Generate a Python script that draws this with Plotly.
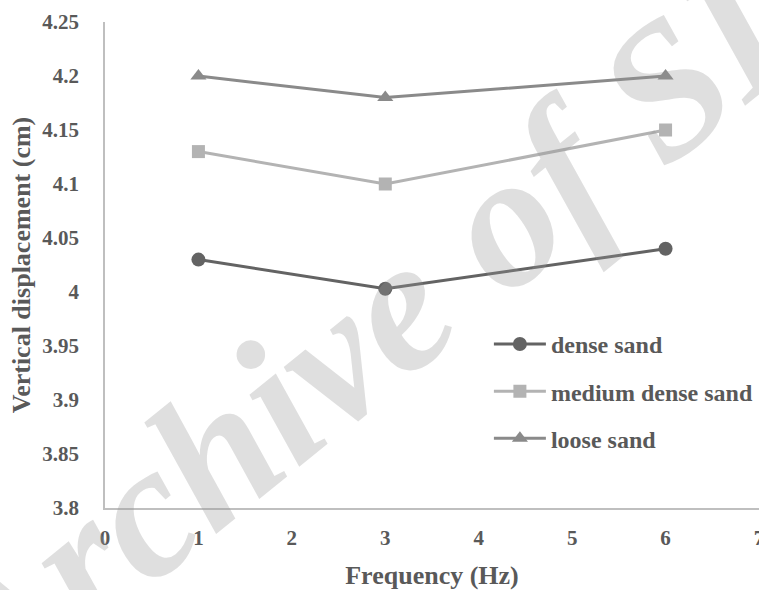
import plotly.graph_objects as go

# Vertical displacement of the footing versus loading frequency
frequency = [1, 3, 6]
dense_sand = [4.03, 4.003, 4.04]
medium_dense_sand = [4.13, 4.10, 4.15]
loose_sand = [4.20, 4.18, 4.20]

series_names = ["dense sand", "medium dense sand", "loose sand"]
x_ticks = [0, 1, 2, 3, 4, 5, 6, 7]
y_ticks = [3.8, 3.85, 3.9, 3.95, 4.0, 4.05, 4.1, 4.15, 4.2, 4.25]
y_tick_text = ["3.8", "3.85", "3.9", "3.95", "4", "4.05", "4.1", "4.15", "4.2", "4.25"]

FONT = "Liberation Serif, Times New Roman, serif"
TEXT_GREY = "#595959"
AXIS_GREY = "#bfbfbf"

styles = [
    dict(color="#636363", symbol="circle", size=14),
    dict(color="#b3b3b3", symbol="square", size=13),
    dict(color="#8a8a8a", symbol="triangle-up", size=14),
]

fig = go.Figure()
for i, (name, values, st) in enumerate(zip(series_names,
                                            [dense_sand, medium_dense_sand, loose_sand],
                                            styles)):
    fig.add_trace(go.Scatter(
        x=frequency, y=values, name=name, mode="lines+markers",
        legendgroup=f"g{i}",
        line=dict(color=st["color"], width=3),
        marker=dict(color=st["color"], symbol=st["symbol"], size=st["size"],
                    line=dict(width=0)),
    ))

fig.update_layout(
    width=759, height=590,
    margin=dict(l=105, r=0, t=22, b=82),
    plot_bgcolor="white", paper_bgcolor="white",
    font=dict(family=FONT, color=TEXT_GREY, size=21, weight="bold"),
    showlegend=True,
    legend=dict(
        x=0.587, y=0.383, xanchor="left", yanchor="top",
        bgcolor="rgba(0,0,0,0)", tracegroupgap=13, itemwidth=52,
        font=dict(family=FONT, size=24, color=TEXT_GREY, weight="bold"),
    ),
    xaxis=dict(
        range=[0, 7], tickmode="array", tickvals=x_ticks,
        showgrid=False, zeroline=False, showline=True, linecolor=AXIS_GREY,
        linewidth=1.5, ticks="", automargin=False, ticklabelstandoff=10,
        ticklabeloverflow="allow",
        tickfont=dict(family=FONT, size=21, color=TEXT_GREY, weight="bold"),
        title=dict(text="Frequency (Hz)", standoff=22,
                   font=dict(family=FONT, size=26, color=TEXT_GREY, weight="bold")),
    ),
    yaxis=dict(
        range=[3.8, 4.25], tickmode="array", tickvals=y_ticks, ticktext=y_tick_text,
        showgrid=False, zeroline=False, showline=True, linecolor=AXIS_GREY,
        linewidth=1.5, ticks="", automargin=False, ticklabelstandoff=20,
        tickfont=dict(family=FONT, size=21, color=TEXT_GREY, weight="bold"),
        title=dict(text="Vertical displacement (cm)", standoff=4,
                   font=dict(family=FONT, size=26, color=TEXT_GREY, weight="bold")),
    ),
)

# Repository watermark running diagonally across the page
fig.add_annotation(
    text="Archive of SID", xref="paper", yref="paper",
    x=0.462, y=0.434, xanchor="center", yanchor="middle",
    textangle=-39, showarrow=False,
    font=dict(family=FONT, size=190, color="rgba(150,150,150,0.3)",
              style="italic", weight="bold"),
)

fig.write_html("out.html")
